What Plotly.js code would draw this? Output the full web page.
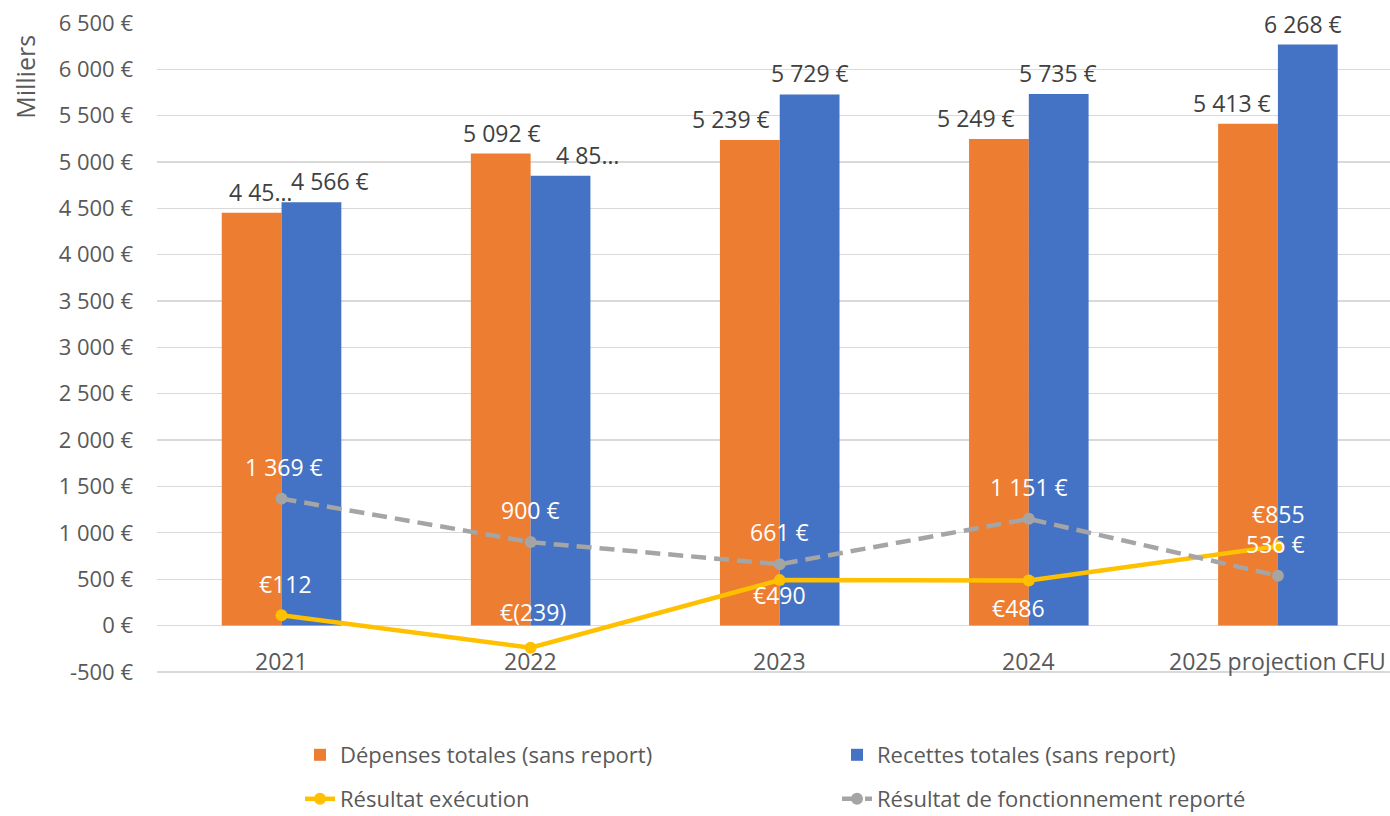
<!DOCTYPE html>
<html>
<head>
<meta charset="utf-8">
<script src="https://cdn.plot.ly/plotly-3.0.1.min.js"></script>
<style>html,body{margin:0;padding:0;background:#fff;}#chart{width:1390px;height:816px;}</style>
</head>
<body>
<div id="chart"></div>
<script>
const categories = ["2021", "2022", "2023", "2024", "2025 projection CFU"];
const depenses = [4454, 5092, 5239, 5249, 5413];
const recettes = [4566, 4853, 5729, 5735, 6268];
const resultatExec = [112, -239, 490, 486, 855];
const resultatReporte = [1369, 900, 661, 1151, 536];
const tickValues = [-500, 0, 500, 1000, 1500, 2000, 2500, 3000, 3500, 4000, 4500, 5000, 5500, 6000, 6500];
// Excel truncated some bar labels
const truncatedDep = ["4 45…", null, null, null, null];
const truncatedRec = [null, "4 85…", null, null, null];

function grp(n) {
  const s = String(Math.abs(Math.round(n)));
  return s.replace(/\B(?=(\d{3})+(?!\d))/g, " ");
}
function eur(n) { return (n < 0 ? "-" : "") + grp(n) + " €"; }
function eurAcc(n) { return n < 0 ? "€(" + grp(n) + ")" : "€" + grp(n); }

const FONT = "Open Sans, Liberation Sans, sans-serif";
const grey = "#595959";
const yMin = tickValues[0];

const traces = [
  {type: "bar", name: "Dépenses totales (sans report)", x: categories, y: depenses,
   marker: {color: "#ED7D31"}, hoverinfo: "skip", legend: "legend"},
  {type: "bar", name: "Recettes totales (sans report)", x: categories, y: recettes,
   marker: {color: "#4472C4"}, hoverinfo: "skip", legend: "legend"},
  {type: "scatter", mode: "lines+markers", name: "Résultat exécution", x: categories, y: resultatExec,
   line: {color: "#FFC000", width: 4.5}, marker: {color: "#FFC000", size: 12}, hoverinfo: "skip", legend: "legend2"},
  {type: "scatter", mode: "lines+markers", name: "Résultat de fonctionnement reporté", x: categories, y: resultatReporte,
   line: {color: "#A5A5A5", width: 4.5, dash: "15px,8px"}, marker: {color: "#A5A5A5", size: 12}, hoverinfo: "skip", legend: "legend2"}
];

const LBL = 23;
const annotations = [];
const depShift = [-21, -29, -49, -53, -46];
const recShift = [48, 57, 30, 29, 25];
categories.forEach((c, i) => {
  annotations.push({x: i, y: depenses[i], xref: "x", yref: "y", text: truncatedDep[i] || eur(depenses[i]),
    showarrow: false, xshift: depShift[i], yshift: 21, yanchor: "middle",
    font: {family: FONT, size: LBL, color: "#404040"}});
  annotations.push({x: i, y: recettes[i], xref: "x", yref: "y", text: truncatedRec[i] || eur(recettes[i]),
    showarrow: false, xshift: recShift[i], yshift: 21, yanchor: "middle",
    font: {family: FONT, size: LBL, color: "#404040"}});
});
const repShift = [2, 0, 0, 0, -2];
categories.forEach((c, i) => {
  annotations.push({x: i, y: resultatReporte[i], xref: "x", yref: "y", text: eur(resultatReporte[i]),
    showarrow: false, xshift: repShift[i], yshift: 32, yanchor: "middle",
    font: {family: FONT, size: LBL, color: "#FFFFFF"}});
});
const exX = [4, 2, 0, -10, 1];
const exY = [31, 36, -15, -28, 32];
categories.forEach((c, i) => {
  annotations.push({x: i, y: resultatExec[i], xref: "x", yref: "y", text: eurAcc(resultatExec[i]),
    showarrow: false, xshift: exX[i], yshift: exY[i], yanchor: "middle",
    font: {family: FONT, size: LBL, color: "#FFFFFF"}});
});
// category labels (Excel draws them just above the lowest gridline)
categories.forEach((c, i) => {
  annotations.push({x: i, y: yMin, xref: "x", yref: "y", text: c, showarrow: false,
    yanchor: "middle", yshift: 11, font: {family: FONT, size: 23, color: grey}});
});
annotations.push({text: "Milliers", xref: "paper", yref: "paper", x: -0.107, y: 0.985, xanchor: "center", yanchor: "top",
  textangle: -90, showarrow: false, font: {family: FONT, size: 25, color: grey}});

const legendCommon = {orientation: "h", xref: "container", yref: "container", x: 300 / 1390, xanchor: "left",
  yanchor: "middle", entrywidth: 492, entrywidthmode: "pixels", traceorder: "normal",
  font: {family: FONT, size: 22, color: grey}, bgcolor: "rgba(0,0,0,0)", borderwidth: 0};

const layout = {
  width: 1390, height: 816,
  margin: {l: 157, r: 0, t: 23, b: 143},
  paper_bgcolor: "#fff", plot_bgcolor: "#fff",
  font: {family: FONT, color: grey, size: 19},
  barmode: "group", bargap: 0.52, bargroupgap: 0,
  showlegend: true,
  legend: Object.assign({}, legendCommon, {y: 1 - 755 / 816}),
  legend2: Object.assign({}, legendCommon, {y: 1 - 799 / 816}),
  xaxis: {type: "category", range: [-0.5, 4.45], showgrid: false, zeroline: false, showline: false,
    ticks: "", showticklabels: false},
  yaxis: {range: [-512, 6500], tickvals: tickValues, ticktext: tickValues.map(eur),
    showgrid: true, gridcolor: "#D9D9D9", gridwidth: 1.3, zeroline: false, showline: false,
    ticks: "", ticklen: 0, ticklabelstandoff: 23, tickfont: {family: FONT, size: 22, color: grey}, automargin: false},
  annotations: annotations
};

Plotly.newPlot("chart", traces, layout, {displayModeBar: false, staticPlot: true});
</script>
</body>
</html>
